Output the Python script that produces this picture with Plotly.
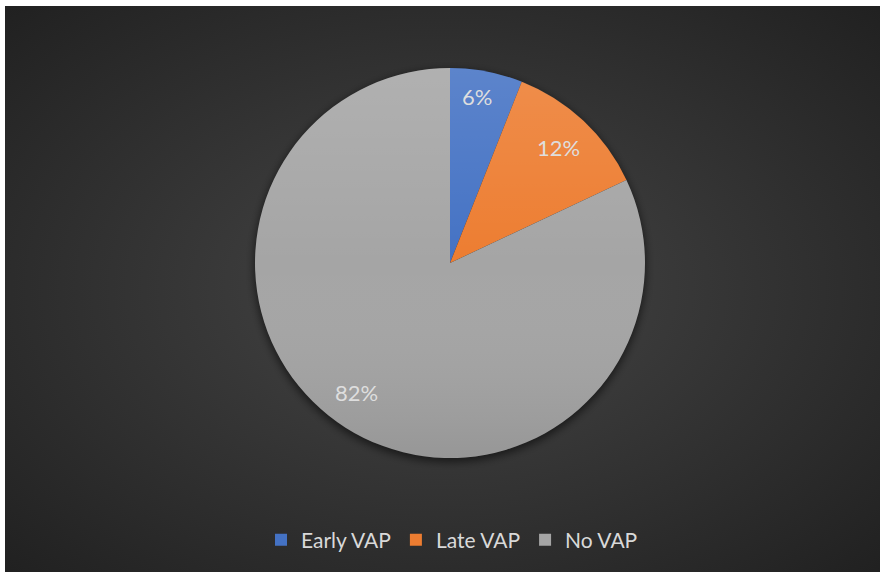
import math
import plotly.graph_objects as go

# Share of patients by ventilator-associated pneumonia onset
categories = ["Early VAP", "Late VAP", "No VAP"]
shares = [6, 12, 82]
colors = ["#4472C4", "#ED7D31", "#A5A5A5"]

W, H = 881, 573
cx, cy, R = 450, 263, 195          # pie centre and radius in pixels
label_r = 0.82                      # data labels sit at this fraction of the radius
label_nudge = [(-3, -9), (-1, 1), (-8, -6)]   # small pixel tweaks per label

# Panel background: dark radial gradient inside a thin white frame,
# with a soft drop shadow behind the pie
bx, by = 5, 6
bg_svg = (
    "data:image/svg+xml;utf8,"
    "<svg xmlns='http://www.w3.org/2000/svg' width='875' height='566' "
    "preserveAspectRatio='none' viewBox='0 0 875 566'>"
    "<defs><radialGradient id='g' cx='50%' cy='50%' r='72%'>"
    "<stop offset='0' stop-color='%23464646'/>"
    "<stop offset='1' stop-color='%23202020'/>"
    "</radialGradient>"
    "<filter id='b' x='-20%' y='-20%' width='140%' height='140%'>"
    "<feGaussianBlur stdDeviation='4'/></filter></defs>"
    "<rect width='875' height='566' fill='url(%23g)'/>"
    f"<circle cx='{cx - bx}' cy='{cy - by + 3}' r='{R + 1}' fill='black' "
    "fill-opacity='0.55' filter='url(%23b)'/></svg>"
)

# Subtle top-to-bottom sheen laid over the pie
sheen_svg = (
    "data:image/svg+xml;utf8,"
    f"<svg xmlns='http://www.w3.org/2000/svg' width='{2 * R}' height='{2 * R}' "
    f"viewBox='0 0 {2 * R} {2 * R}'>"
    "<defs><linearGradient id='s' x1='0' y1='0' x2='0' y2='1'>"
    "<stop offset='0' stop-color='white' stop-opacity='0.13'/>"
    "<stop offset='0.5' stop-color='white' stop-opacity='0'/>"
    "<stop offset='1' stop-color='black' stop-opacity='0.09'/>"
    "</linearGradient></defs>"
    f"<circle cx='{R}' cy='{R}' r='{R}' fill='url(%23s)'/></svg>"
)

fig = go.Figure()
fig.add_trace(go.Pie(
    labels=categories,
    values=shares,
    sort=False,
    direction="clockwise",
    rotation=0,
    marker=dict(colors=colors, line=dict(width=0)),
    textinfo="none",
    hoverinfo="label+percent",
    domain=dict(x=[(cx - R) / W, (cx + R) / W],
                y=[1 - (cy + R) / H, 1 - (cy - R) / H]),
))

# Percentage labels placed along each slice's bisector
annotations = []
total = sum(shares)
start = 0.0
for name, v, (nx, ny) in zip(categories, shares, label_nudge):
    frac = v / total
    mid = (start + frac / 2) * 2 * math.pi
    start += frac
    px = cx + label_r * R * math.sin(mid) + nx
    py = cy - label_r * R * math.cos(mid) + ny
    annotations.append(dict(
        x=px / W, y=1 - py / H, xref="paper", yref="paper",
        text=f"{v}%", showarrow=False,
        font=dict(family="Lato, 'Open Sans', sans-serif", size=22, color="#dedede"),
        xanchor="center", yanchor="middle",
    ))

fig.update_layout(
    width=W, height=H,
    margin=dict(l=0, r=0, t=0, b=0),
    paper_bgcolor="white",
    plot_bgcolor="rgba(0,0,0,0)",
    images=[
        dict(source=bg_svg, xref="paper", yref="paper",
             x=bx / W, y=1 - by / H, sizex=875 / W, sizey=566 / H,
             xanchor="left", yanchor="top", sizing="stretch", layer="below"),
        dict(source=sheen_svg, xref="paper", yref="paper",
             x=(cx - R) / W, y=1 - (cy - R) / H, sizex=2 * R / W, sizey=2 * R / H,
             xanchor="left", yanchor="top", sizing="stretch", layer="above"),
    ],
    annotations=annotations,
    showlegend=True,
    legend=dict(
        orientation="h", x=452 / W, xanchor="center",
        y=1 - 540 / H, yanchor="middle",
        font=dict(family="Lato, 'Open Sans', sans-serif", size=21, color="#d9d9d9"),
        bgcolor="rgba(0,0,0,0)", itemclick=False,
    ),
)

fig.write_html("out.html")
